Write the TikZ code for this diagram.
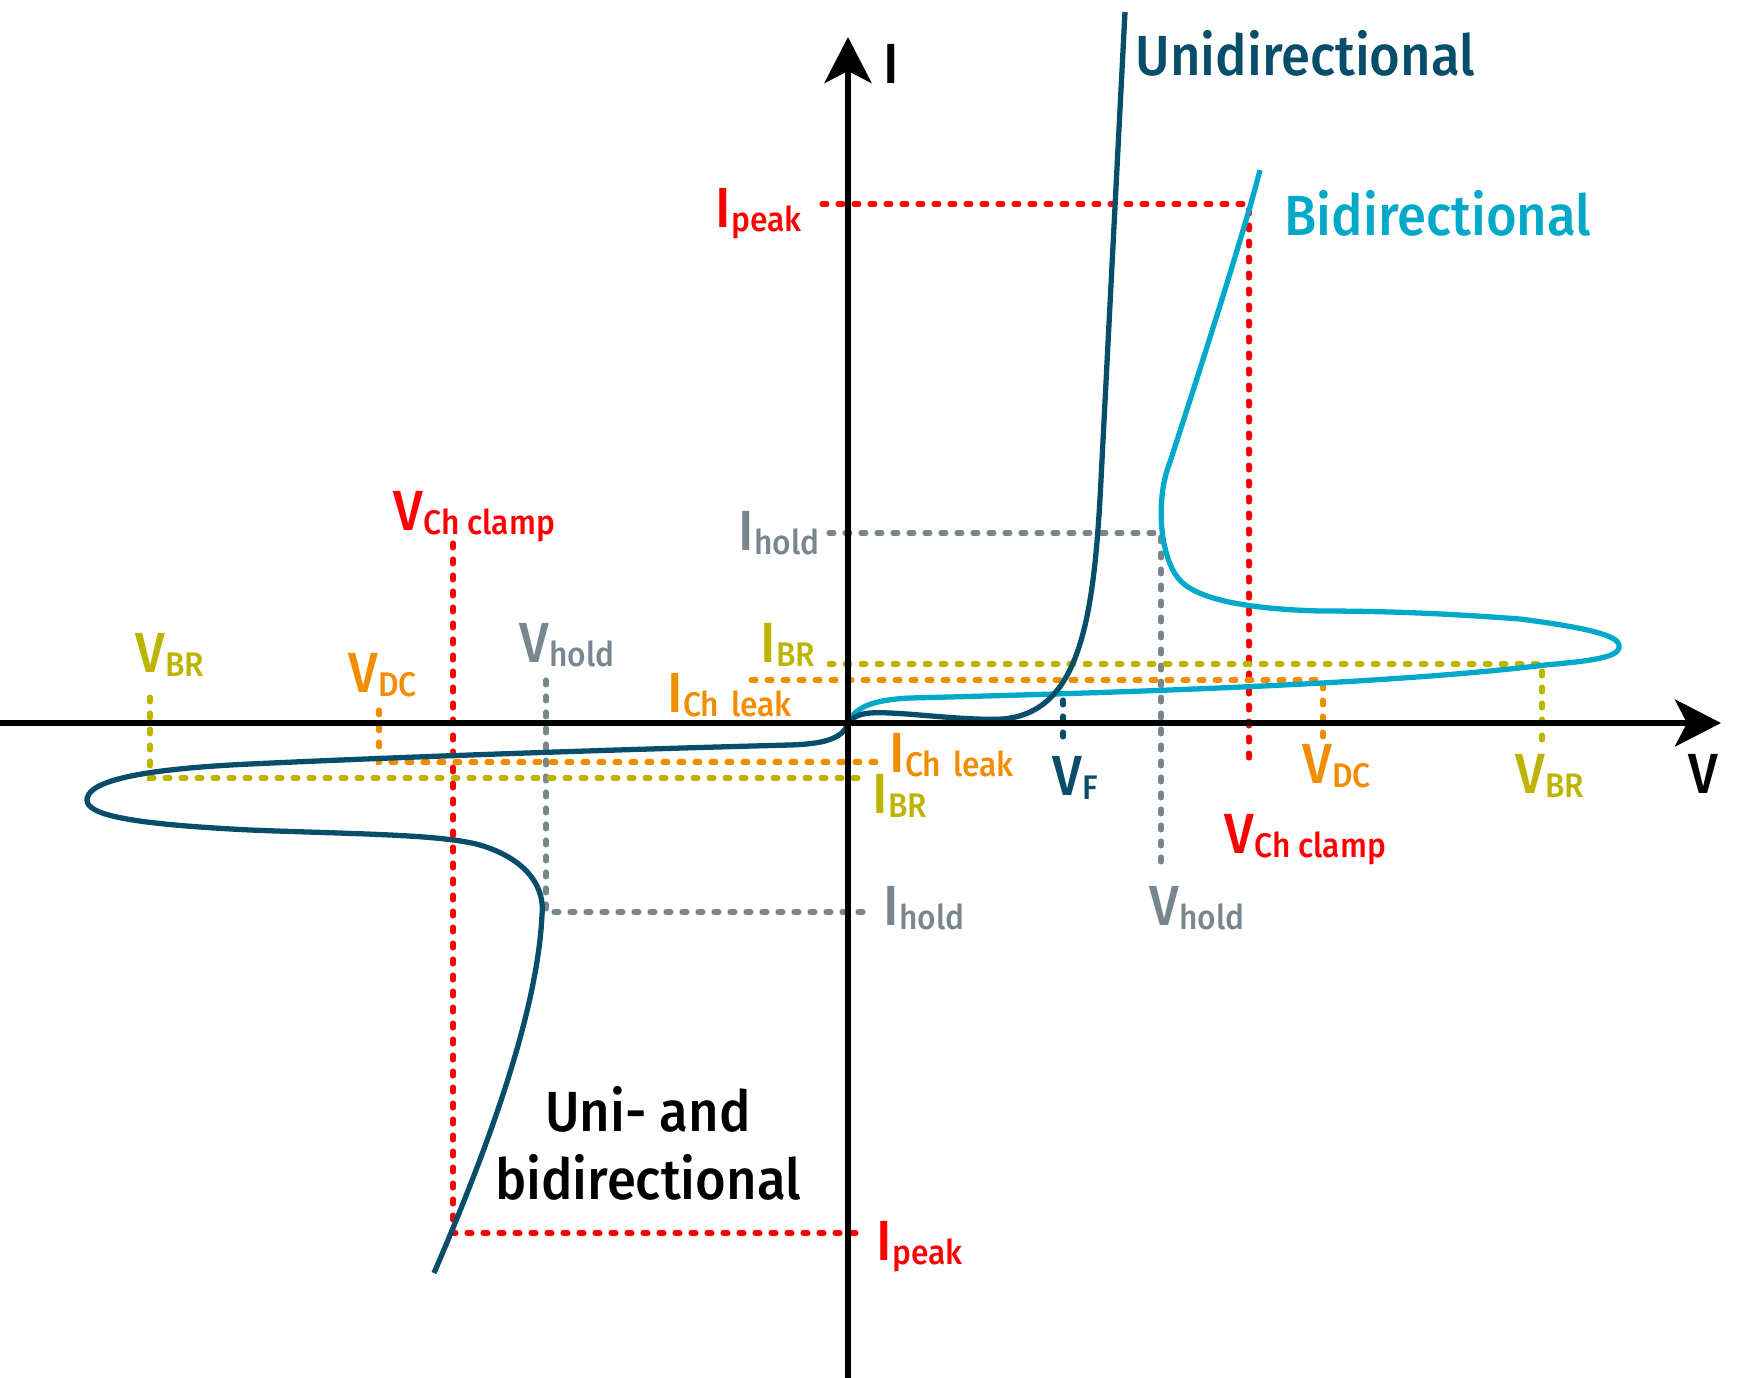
\documentclass[tikz,border=0pt]{standalone}
\usepackage{fontspec}
\setmainfont{Fira Sans}[FakeStretch=0.93, UprightFont=* Medium]
\usetikzlibrary{arrows.meta}
\definecolor{uni}{RGB}{8,78,106}
\definecolor{bidi}{RGB}{0,169,201}
\definecolor{peak}{RGB}{255,0,0}
\definecolor{hold}{RGB}{120,134,144}
\definecolor{brk}{RGB}{190,180,0}
\definecolor{leak}{RGB}{242,140,0}
\newcommand{\Sub}[2]{#1\raisebox{-1.4pt}{\fontsize{9.7}{10}\selectfont #2}}

\begin{document}
\begin{tikzpicture}[x=0.01cm, y=-0.01cm,
axis/.style={line width=1.65pt, -{Stealth[length=0.46cm, width=0.47cm, inset=0.12cm]}},
curve/.style={line width=1.5pt},
guide/.style={line width=1.45pt, line cap=round, dash pattern=on 1.4pt off 3.15pt},
lbl/.style={anchor=base west, inner sep=0, font=\fontsize{16.1}{19}\selectfont},
]
\useasboundingbox (0,0) rectangle (1750,1378); %%%%%%% SIZE OF THE PICTURE

%%%%%%%%%%%%%%%%%%%%%%%% COORDINATES %%%%%%%%%%%%%%%%%%%%%%%%%%%
\coordinate (O) at (848,723);
\coordinate (PeakUp) at (1249,204);
\coordinate (HoldUp) at (1161,533);
\coordinate (BrUp) at (1542,664);
\coordinate (LeakUp) at (1323,680);
\coordinate (PeakLow) at (453,1233);
\coordinate (HoldLow) at (546,912);
\coordinate (BrLow) at (150,778);
\coordinate (LeakLow) at (379,762);

%%%%%%%%%%%%%%%%%%%%%%%% GUIDE LINES %%%%%%%%%%%%%%%%%%%%%%%%%%%
\draw[guide, peak] (822,204) -- (PeakUp) -- (1249,767);
\draw[guide, hold] (829,533) -- (HoldUp) -- (1161,868);
\draw[guide, brk]  (829,664) -- (BrUp) -- (1542,745);
\draw[guide, leak] (751,680) -- (LeakUp) -- (1323,740);
\draw[guide, uni]  (1063,700) -- (1063,740);
\draw[guide, peak] (453,543) -- (PeakLow) -- (867,1233);
\draw[guide, hold] (546,680) -- (HoldLow) -- (868,912);
\draw[guide, brk]  (150,697) -- (BrLow) -- (868,778);
\draw[guide, leak] (379,710) -- (LeakLow) -- (882,762);

%%%%%%%%%%%%%%%%%%%%%%%% CURVES %%%%%%%%%%%%%%%%%%%%%%%%%%%
\draw[curve, bidi] (O) .. controls (855,708) and (870,700) .. (910,698)
  .. controls (1150,692) and (1400,683) .. (1545,665)
  .. controls (1605,660) and (1621,655) .. (1619,645)
  .. controls (1618,636) and (1590,628) .. (1520,619)
  .. controls (1440,613) and (1380,611) .. (1320,611)
  .. controls (1250,609) and (1195,600) .. (1178,578)
  .. controls (1160,555) and (1155,500) .. (1170,462)
  .. controls (1195,385) and (1245,230) .. (1260,170);
\draw[curve, uni] (1125,12) -- (1101,480)
  .. controls (1094,620) and (1080,712) .. (1003,719)
  .. controls (960,721) and (900,711) .. (870,713)
  .. controls (858,714) and (852,718) .. (O)
  .. controls (843,740) and (820,744) .. (790,745)
  .. controls (600,750) and (400,757) .. (250,764)
  .. controls (120,770) and (87,785) .. (87,800)
  .. controls (87,815) and (130,824) .. (250,830)
  .. controls (350,834) and (440,834) .. (480,845)
  .. controls (530,860) and (545,890) .. (542,915)
  .. controls (538,1000) and (500,1120) .. (434,1273);

%%%%%%%%%%%%%%%%%%%%%%%% AXES %%%%%%%%%%%%%%%%%%%%%%%%%%%
\draw[axis] (0,723) -- (1721,723);
\draw[axis] (848,1378) -- (848,37);
\node[lbl] (Iaxis) at (883,83) {I};
\node[lbl] (Vaxis) at (1688,793) {V};

%%%%%%%%%%%%%%%%%%%%%%%% TITLES %%%%%%%%%%%%%%%%%%%%%%%%%%%
\node[lbl, text=uni] (Uni) at (1135,75) {Unidirectional};
\node[lbl, text=bidi] (Bidi) at (1284,235) {Bidirectional};
\node[align=center, inner sep=0, font=\fontsize{16.1}{19.3}\selectfont] (Both) at (648,1143) {Uni- and\\bidirectional};

%%%%%%%%%%%%%%%%%%%%%%%% LABELS %%%%%%%%%%%%%%%%%%%%%%%%%%%
\node[lbl, text=peak] (IpeakUp) at (715,227) {\Sub{I}{peak}};
\node[lbl, text=peak] (IpeakLow) at (876,1260) {\Sub{I}{peak}};
\node[lbl, text=peak] (VclampL) at (393,530) {\Sub{V}{Ch clamp}};
\node[lbl, text=peak] (VclampR) at (1224,853) {\Sub{V}{Ch clamp}};
\node[lbl, text=hold] (IholdUp) at (738,550) {\Sub{I}{hold}};
\node[lbl, text=hold] (IholdLow) at (883,925) {\Sub{I}{hold}};
\node[lbl, text=hold] (VholdL) at (519,662) {\Sub{V}{hold}};
\node[lbl, text=hold] (VholdR) at (1149,925) {\Sub{V}{hold}};
\node[lbl, text=brk] (VbrL) at (135,672) {\Sub{V}{BR}};
\node[lbl, text=brk] (VbrR) at (1515,793) {\Sub{V}{BR}};
\node[lbl, text=brk] (IbrUp) at (760,662) {\Sub{I}{BR}};
\node[lbl, text=brk] (IbrLow) at (872,813) {\Sub{I}{BR}};
\node[lbl, text=leak] (VdcL) at (348,692) {\Sub{V}{DC}};
\node[lbl, text=leak] (VdcR) at (1302,783) {\Sub{V}{DC}};
\node[lbl, text=leak] (IleakUp) at (667,712) {\Sub{I}{Ch\hspace{0.35em}leak}};
\node[lbl, text=leak] (IleakLow) at (889,772) {\Sub{I}{Ch\hspace{0.35em}leak}};
\node[lbl, text=uni] (VF) at (1052,795) {\Sub{V}{F}};
\end{tikzpicture}
\end{document}
